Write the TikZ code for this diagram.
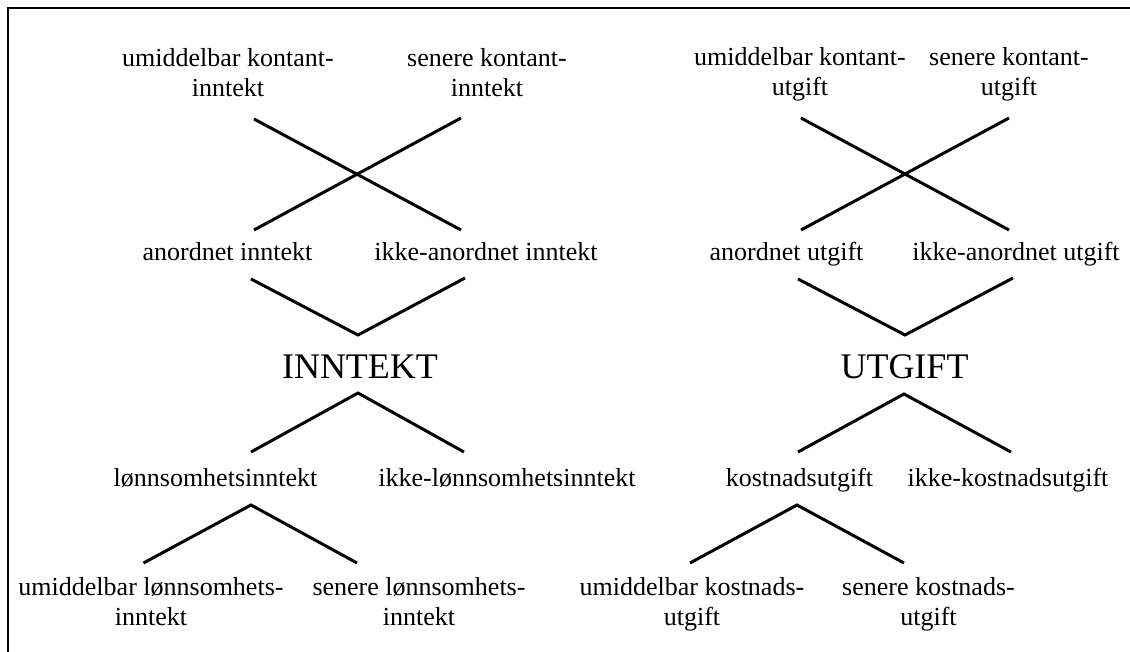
\documentclass[tikz,border=0pt]{standalone}
\usepackage{fontspec}
\setmainfont{Liberation Serif}
\begin{document}
\begin{tikzpicture}[x=1pt,y=-1pt,
  lbl/.style={inner sep=0pt,anchor=base,align=center,font=\fontsize{26}{30}\selectfont},
  big/.style={inner sep=0pt,anchor=base,font=\fontsize{36}{40}\selectfont},
  conn/.style={line width=3pt},
  frame/.style={line width=2pt}]
\useasboundingbox (0,0) rectangle (1130,652);
\draw[frame] (7.5,652) -- (7.5,8) -- (1130,8);
% left tree
\node[lbl] (a1) at (228,97) {umiddelbar kontant-\\inntekt};
\node[lbl] (a2) at (487,97) {senere kontant-\\inntekt};
\node[lbl] (b1) at (227.5,261) {anordnet inntekt};
\node[lbl] (b2) at (486,261) {ikke-anordnet inntekt};
\node[big] (I) at (360,378) {INNTEKT};
\node[lbl] (c1) at (215.5,486) {lønnsomhetsinntekt};
\node[lbl] (c2) at (507,486) {ikke-lønnsomhetsinntekt};
\node[lbl] (d1) at (151,625) {umiddelbar lønnsomhets-\\inntekt};
\node[lbl] (d2) at (419,625) {senere lønnsomhets-\\inntekt};
% right tree
\node[lbl] (e1) at (800,96) {umiddelbar kontant-\\utgift};
\node[lbl] (e2) at (1009,96) {senere kontant-\\utgift};
\node[lbl] (f1) at (786.5,261) {anordnet utgift};
\node[lbl] (f2) at (1016,261) {ikke-anordnet utgift};
\node[big] (U) at (904.5,378) {UTGIFT};
\node[lbl] (g1) at (799.5,486) {kostnadsutgift};
\node[lbl] (g2) at (1008,486) {ikke-kostnadsutgift};
\node[lbl] (h1) at (692,625) {umiddelbar kostnads-\\utgift};
\node[lbl] (h2) at (928.5,625) {senere kostnads-\\utgift};
% connector end points
\coordinate (xa1) at (254,119);
\coordinate (xa2) at (461,118);
\coordinate (xb1) at (254,230);
\coordinate (xb2) at (461,230);
\coordinate (vb1) at (251,279);
\coordinate (vb2) at (465,278);
\coordinate (vI) at (358,335);
\coordinate (lI) at (358,393);
\coordinate (lc1) at (251,452);
\coordinate (lc2) at (464,452);
\coordinate (lc) at (251,505);
\coordinate (ld1) at (143.5,563);
\coordinate (ld2) at (357,563);
\coordinate (xe1) at (801,118);
\coordinate (xe2) at (1009,118);
\coordinate (xf1) at (801,230);
\coordinate (xf2) at (1009,230);
\coordinate (vf1) at (798,279);
\coordinate (vf2) at (1013,278);
\coordinate (vU) at (905,335);
\coordinate (lU) at (904,394);
\coordinate (lg1) at (798,452);
\coordinate (lg2) at (1011,452);
\coordinate (lg) at (797,505);
\coordinate (lh1) at (690,563);
\coordinate (lh2) at (904,563);
% connectors
\draw[conn] (xa1) -- (xb2);
\draw[conn] (xa2) -- (xb1);
\draw[conn] (vb1) -- (vI) -- (vb2);
\draw[conn] (lc1) -- (lI) -- (lc2);
\draw[conn] (ld1) -- (lc) -- (ld2);
\draw[conn] (xe1) -- (xf2);
\draw[conn] (xe2) -- (xf1);
\draw[conn] (vf1) -- (vU) -- (vf2);
\draw[conn] (lg1) -- (lU) -- (lg2);
\draw[conn] (lh1) -- (lg) -- (lh2);
\end{tikzpicture}
\end{document}
